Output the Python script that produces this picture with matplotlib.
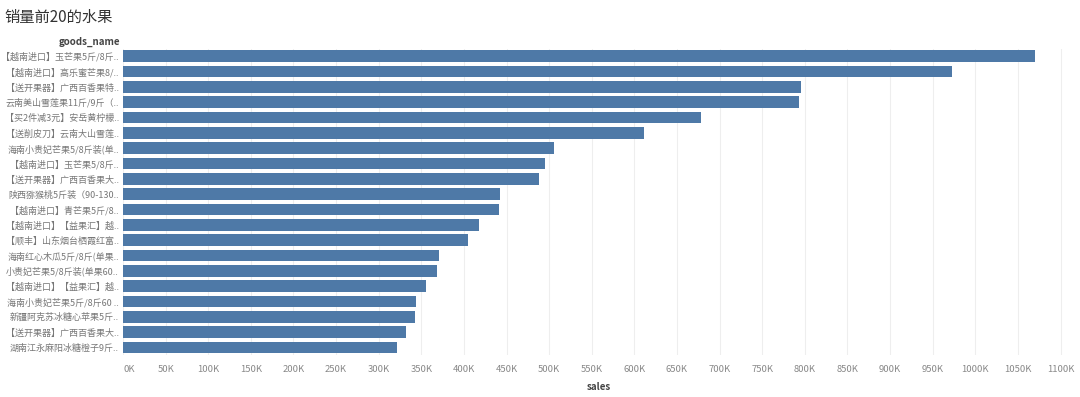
import matplotlib
matplotlib.use("Agg")
import matplotlib.pyplot as plt

plt.rcParams['font.family'] = ['Noto Sans CJK SC', 'DejaVu Sans']

goods_name = [
    "【越南进口】玉芒果5斤/8斤..",
    "【越南进口】高乐蜜芒果8/..",
    "【送开果器】广西百香果特..",
    "云南美山雪莲果11斤/9斤（..",
    "【买2件减3元】安岳黄柠檬..",
    "【送削皮刀】云南大山雪莲..",
    "海南小贵妃芒果5/8斤装(单..",
    "【越南进口】玉芒果5/8斤..",
    "【送开果器】广西百香果大..",
    "陕西猕猴桃5斤装（90-130..",
    "【越南进口】青芒果5斤/8..",
    "【越南进口】【益果汇】越..",
    "【顺丰】山东烟台栖霞红富..",
    "海南红心木瓜5斤/8斤(单果..",
    "小贵妃芒果5/8斤装(单果60..",
    "【越南进口】【益果汇】越..",
    "海南小贵妃芒果5斤/8斤60 ..",
    "新疆阿克苏冰糖心苹果5斤..",
    "【送开果器】广西百香果大..",
    "湖南江永麻阳冰糖橙子9斤..",
]
sales = [1070000, 973000, 796000, 793500, 678000, 611000, 506000, 495000,
         488500, 442500, 441000, 418000, 405000, 370500, 369000, 355500,
         344000, 342500, 332500, 321500]
x_ticks = [i * 50000 for i in range(23)]
x_tick_labels = [f"{t // 1000}K" for t in x_ticks]

fig = plt.figure(figsize=(10.8, 3.97), dpi=100)
ax = fig.add_axes([123/1080, 1-355/397, (1075-123)/1080, (355-48.5)/397])

y = list(range(len(goods_name)))
ax.barh(y, sales, height=0.76, color="#4e79a7", zorder=2)
ax.set_ylim(len(goods_name)-0.5, -0.5)
ax.set_xlim(0, 1117000)

ax.set_xticks(x_ticks)
ax.set_xticklabels(x_tick_labels)
ax.grid(axis='x', color="#eeeeee", linewidth=0.8, zorder=0)
ax.set_axisbelow(True)
for s in ax.spines.values():
    s.set_visible(False)
ax.tick_params(axis='both', length=0)
ax.tick_params(axis='x', labelsize=6.8, labelcolor="#888888", pad=7)
ax.tick_params(axis='y', labelsize=6.5, labelcolor="#777777", pad=3)
ax.set_yticks(y)
ax.set_yticklabels(goods_name)

for tick in ax.xaxis.get_major_ticks()[:1]:
    tick.label1.set_horizontalalignment('left')

ax.set_xlabel("sales", fontsize=7, color="#444444", fontweight='bold', labelpad=6)
fig.text(120/1080, 1-42/397, "goods_name", ha='right', va='center',
         fontsize=7, color="#444444", fontweight='bold')
fig.text(4/1080, 1-17/397, "销量前20的水果", ha='left', va='center',
         fontsize=11, color="#333333")

fig.savefig("out.png", dpi=100)
